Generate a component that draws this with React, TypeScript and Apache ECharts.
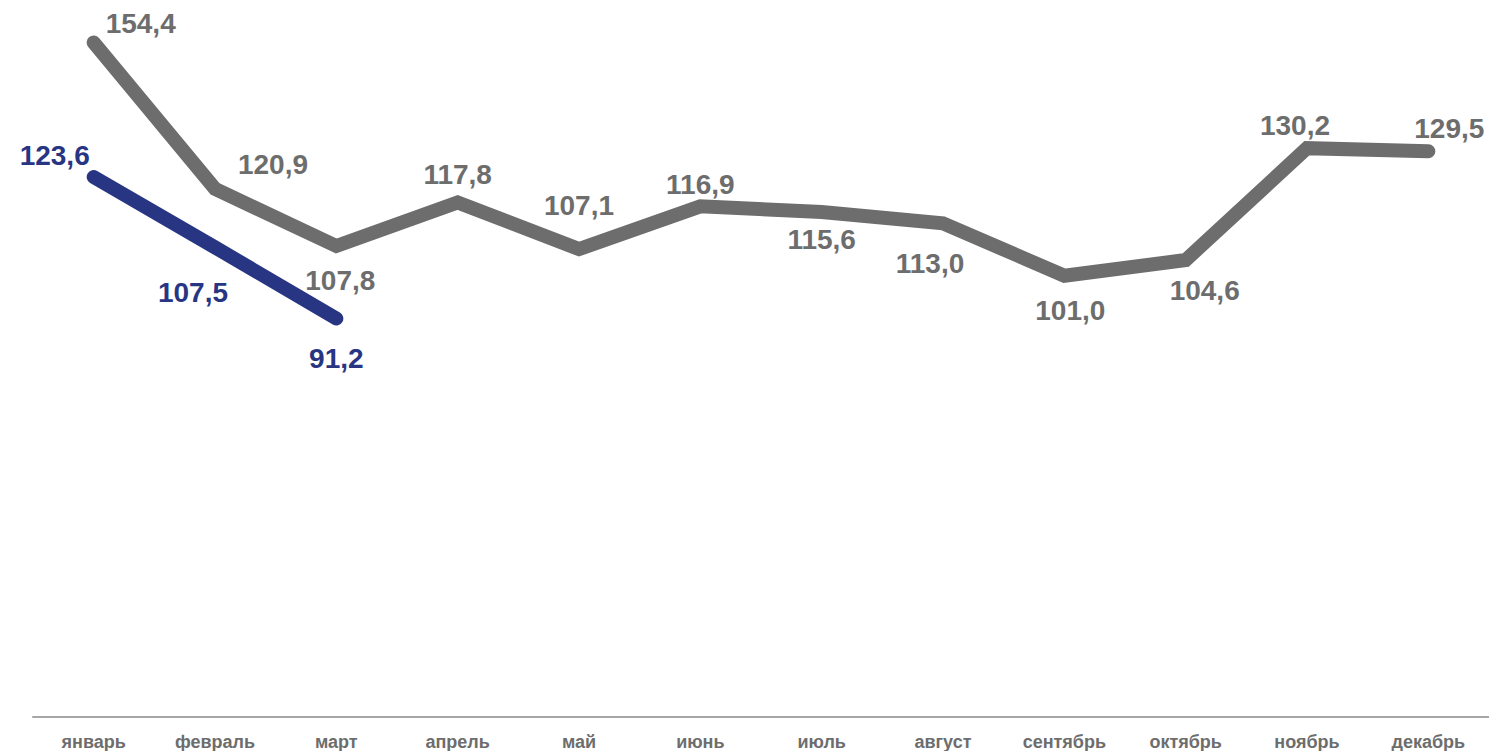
import React, { useEffect, useRef } from "react";
import * as echarts from "echarts";

const months = ["январь", "февраль", "март", "апрель", "май", "июнь", "июль", "август", "сентябрь", "октябрь", "ноябрь", "декабрь"];
const prevYear = [154.4, 120.9, 107.8, 117.8, 107.1, 116.9, 115.6, 113.0, 101.0, 104.6, 130.2, 129.5];
const currYear = [123.6, 107.5, 91.2];

const prevOffsets: [number, number][] = [[47, -19], [58, -24], [4, 34], [0, -28], [0, -44], [0, -22], [0, 28], [-13, 40], [6, 35], [19, 30], [-12, -23], [21, -23]];
const currOffsets: [number, number][] = [[-39, -22], [-22, 45], [0, 40]];

const FONT = "'Liberation Sans', Arial, sans-serif";
const GRAY = "#6d6d6d";
const BLUE = "#283583";

const fmt = (v: number) => v.toFixed(1).replace(".", ",");

export default function App() {
  const ref = useRef<HTMLDivElement>(null);
  useEffect(() => {
    if (!ref.current) return;
    const chart = echarts.init(ref.current, undefined, { renderer: "svg" });
    const mk = (vals: number[], offs: [number, number][]) =>
      vals.map((v, i) => ({ value: v, label: { offset: offs[i] } }));
    const labelStyle = (color: string) => ({
      show: true,
      position: "inside",
      align: "center",
      verticalAlign: "middle",
      color,
      fontFamily: FONT,
      fontWeight: "bold",
      fontSize: 28,
      formatter: (p: any) => fmt(p.value),
    });
    chart.setOption({
      animation: false,
      grid: { left: 33, right: 0, top: 18, bottom: 34, containLabel: false },
      xAxis: {
        type: "category",
        data: months,
        boundaryGap: true,
        axisLine: { show: true, lineStyle: { color: "#a6a6a6", width: 2 } },
        axisTick: { show: false },
        axisLabel: { color: GRAY, fontFamily: FONT, fontWeight: "bold", fontSize: 18, margin: 16 },
      },
      yAxis: { type: "value", min: 0, max: 160, show: false, splitLine: { show: false } },
      series: [
        {
          type: "line",
          data: mk(prevYear, prevOffsets),
          showSymbol: true,
          symbol: "circle",
          symbolSize: 0.1,
          itemStyle: { color: GRAY },
          lineStyle: { color: GRAY, width: 14, cap: "round", join: "miter" },
          label: labelStyle(GRAY),
          z: 2,
        },
        {
          type: "line",
          data: mk(currYear, currOffsets),
          showSymbol: true,
          symbol: "circle",
          symbolSize: 0.1,
          itemStyle: { color: BLUE },
          lineStyle: { color: BLUE, width: 14, cap: "round", join: "miter" },
          label: labelStyle(BLUE),
          z: 3,
        },
      ],
    });
    return () => chart.dispose();
  }, []);
  return (
    <div
      ref={ref}
      style={{ position: "fixed", left: 0, top: 0, width: 1489, height: 751, background: "#ffffff" }}
    />
  );
}
